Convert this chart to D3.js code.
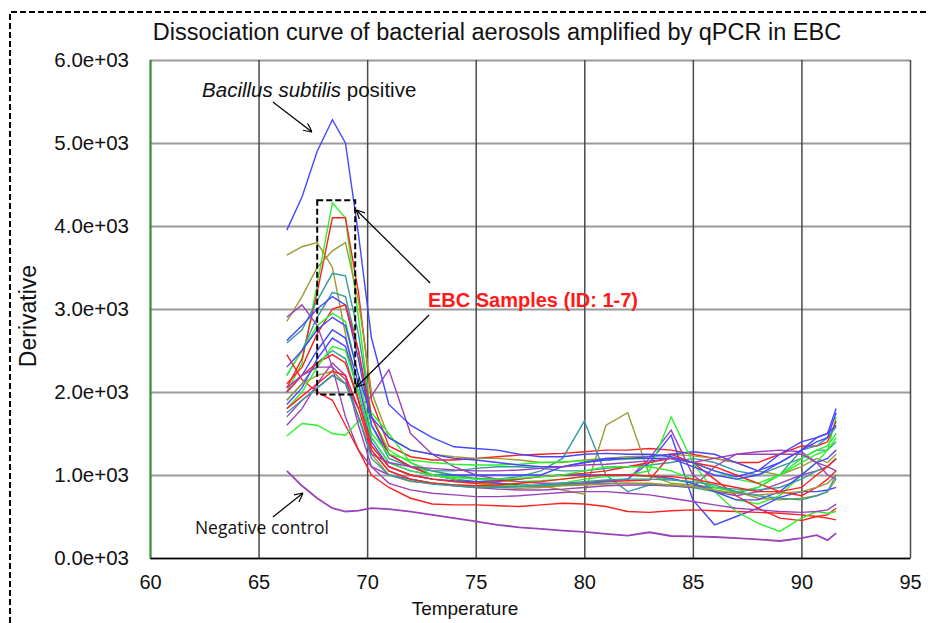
<!DOCTYPE html>
<head>
    <meta charset="utf-8">
    <script src="https://d3js.org/d3.v7.min.js"></script>
    <style>
        body { margin:0; background:#fff; }
        svg { display:block; font-family:"Liberation Sans", Arial, sans-serif; }
    </style>
</head>
<body>
<div id="chart"></div>
<script>

    // ******************** Data ************************
    var temps = [66.3, 67, 67.7, 68.4, 69, 69.6, 70.2, 71, 72, 73, 74, 75, 76, 77, 78, 79,
                 80, 81, 82, 83, 84, 85, 86, 87, 88, 89, 90, 90.7, 91.2, 91.6];

    var xTicks = [60, 65, 70, 75, 80, 85, 90, 95];
    var yTicks = [0, 1000, 2000, 3000, 4000, 5000, 6000];

    var BLUE = "#4646ff", RED = "#ff1f1f", GREEN = "#2cf22c",
        OLIVE = "#9c9a33", TEAL = "#369b9b", PURPLE = "#9c42b8";

    var bacillus = [3950, 4350, 4900, 5280, 5000, 3900, 2650, 1850, 1600, 1450, 1340, 1320, 1300, 1250, 1220, 1220,
                    1250, 1260, 1250, 1250, 1220, 1150, 1050, 980, 1050, 1250, 1400, 1450, 1500, 1800];
    var negControl = [1050, 870, 720, 600, 560, 570, 600, 590, 560, 520, 480, 440, 400, 370, 350, 330,
                      315, 290, 270, 310, 265, 260, 253, 240, 225, 205, 240, 275, 215, 300];

    var ebcSeries = [
        { color: GREEN,  values: [2000, 2350, 3300, 4280, 4100, 2900, 1700, 1300, 1150, 1050, 980, 950, 930, 920, 930, 950, 980, 1000, 1000, 980, 950, 900, 800, 700, 650, 750, 1000, 1150, 1300, 1700] },
        { color: RED,    values: [2050, 2400, 3200, 4100, 4100, 3200, 1900, 1350, 1220, 1180, 1180, 1200, 1220, 1240, 1250, 1260, 1280, 1300, 1300, 1320, 1300, 1250, 1200, 1150, 1150, 1250, 1350, 1350, 1400, 1650] },
        { color: OLIVE,  values: [3650, 3750, 3800, 3500, 2700, 1900, 1350, 1100, 1000, 950, 920, 900, 900, 880, 870, 820, 770, 1600, 1750, 1000, 900, 880, 850, 800, 720, 700, 720, 750, 800, 950] },
        { color: OLIVE,  values: [2850, 3150, 3500, 3700, 3800, 3100, 2000, 1450, 1300, 1250, 1220, 1200, 1200, 1180, 1150, 1150, 1180, 1200, 1220, 1230, 1250, 1230, 1200, 1150, 1050, 1000, 1100, 1200, 1150, 1250] },
        { color: TEAL,   values: [2590, 2750, 3100, 3430, 3400, 2700, 1700, 1250, 1100, 1050, 1000, 960, 950, 980, 1050, 1200, 1650, 1000, 800, 880, 870, 850, 800, 780, 850, 1000, 1300, 1350, 1450, 1580] },
        { color: TEAL,   values: [2200, 2500, 2900, 3200, 3150, 2500, 1600, 1200, 1100, 1050, 1050, 1080, 1100, 1100, 1080, 1050, 1050, 1080, 1100, 1120, 1150, 1200, 1150, 1050, 1000, 1100, 1200, 1300, 1300, 1400] },
        { color: BLUE,   values: [2620, 2800, 3000, 3150, 3050, 2400, 1600, 1250, 1100, 1000, 950, 920, 900, 880, 870, 880, 900, 930, 950, 1150, 1480, 700, 400, 500, 600, 730, 800, 800, 820, 850] },
        { color: RED,    values: [2100, 2300, 2700, 3000, 3050, 2500, 1700, 1250, 1100, 1000, 950, 900, 880, 870, 870, 880, 900, 920, 930, 940, 1250, 1150, 950, 750, 600, 480, 450, 500, 520, 600] },
        { color: PURPLE, values: [2900, 3050, 2800, 2300, 1700, 1300, 1100, 1000, 950, 900, 870, 850, 830, 820, 820, 830, 850, 870, 880, 880, 870, 850, 1100, 1250, 1280, 1300, 1280, 1150, 1100, 1050] },
        { color: PURPLE, values: [1700, 1900, 2050, 2200, 2100, 1800, 1950, 2270, 1500, 1250, 1100, 1000, 950, 920, 900, 900, 900, 920, 950, 1200, 1540, 1000, 800, 750, 800, 900, 1000, 1050, 1100, 1200] },
        { color: GREEN,  values: [2200, 2500, 2800, 2950, 2850, 2200, 1500, 1250, 1180, 1150, 1130, 1120, 1120, 1130, 1150, 1160, 1170, 1180, 1190, 1200, 1200, 1150, 1050, 950, 900, 1000, 1150, 1250, 1300, 1450] },
        { color: BLUE,   values: [2000, 2200, 2500, 2750, 2650, 2100, 1450, 1150, 1050, 1000, 1000, 1000, 1000, 1000, 1000, 1100, 1150, 1180, 1200, 1220, 1250, 1280, 1250, 1150, 1050, 1150, 1300, 1450, 1500, 1600] },
        { color: RED,    values: [2450, 2150, 2000, 1900, 1600, 1300, 1000, 850, 720, 650, 640, 640, 630, 620, 640, 660, 650, 620, 560, 550, 570, 580, 570, 560, 550, 540, 520, 500, 480, 460] },
        { color: GREEN,  values: [1470, 1620, 1600, 1500, 1480, 1650, 1750, 1500, 1150, 1000, 950, 900, 880, 870, 880, 900, 950, 980, 1000, 1050, 1700, 1150, 800, 560, 420, 320, 480, 560, 540, 560] },
        { color: PURPLE, values: [1600, 1800, 2100, 2350, 2200, 1600, 1100, 900, 820, 780, 760, 740, 740, 750, 770, 790, 800, 800, 780, 760, 720, 680, 640, 600, 580, 560, 550, 560, 580, 650] },
        { color: TEAL,   values: [1900, 2100, 2350, 2500, 2400, 1900, 1300, 1050, 950, 900, 880, 870, 860, 860, 870, 880, 890, 900, 900, 890, 880, 860, 850, 830, 820, 850, 950, 1050, 1100, 1200] },
        { color: BLUE,   values: [1850, 2050, 2400, 2650, 2550, 2000, 1400, 1100, 1000, 950, 930, 920, 930, 950, 980, 1000, 1000, 1000, 1000, 990, 960, 900, 800, 700, 700, 800, 1000, 1150, 1200, 1300] },
        { color: RED,    values: [2000, 2200, 2350, 2450, 2350, 1900, 1350, 1100, 1000, 950, 920, 900, 920, 950, 980, 1000, 1020, 1050, 1100, 1150, 1200, 1150, 1100, 1000, 900, 800, 750, 850, 950, 1050] },
        { color: GREEN,  values: [1800, 2000, 2300, 2550, 2500, 2000, 1450, 1150, 1050, 1000, 970, 950, 950, 960, 980, 1000, 1050, 1100, 1100, 1100, 1050, 950, 850, 800, 850, 1000, 1200, 1300, 1350, 1500] },
        { color: BLUE,   values: [2300, 2500, 2750, 2900, 2800, 2200, 1700, 1450, 1300, 1250, 1200, 1180, 1150, 1120, 1100, 1100, 1150, 1200, 1200, 1200, 1200, 1100, 1000, 950, 1000, 1150, 1300, 1400, 1450, 1750] },
        { color: OLIVE,  values: [1900, 2100, 2200, 2250, 2100, 1700, 1250, 1000, 920, 900, 880, 860, 850, 840, 850, 870, 880, 890, 900, 900, 880, 860, 820, 780, 760, 780, 800, 850, 900, 1000] },
        { color: PURPLE, values: [2050, 2200, 2300, 2300, 2150, 1700, 1250, 1150, 1100, 1080, 1060, 1050, 1050, 1060, 1080, 1100, 1120, 1130, 1150, 1170, 1200, 1150, 1200, 1250, 1250, 1250, 1250, 1150, 1000, 950] },
        { color: RED,    values: [1800, 1950, 2100, 2250, 2200, 1800, 1300, 1050, 950, 900, 880, 870, 880, 900, 920, 950, 980, 1000, 1000, 990, 980, 950, 900, 850, 800, 800, 850, 1000, 1100, 1200] },
        { color: TEAL,   values: [1750, 1900, 2050, 2200, 2100, 1700, 1200, 1000, 930, 890, 870, 850, 850, 860, 880, 900, 920, 940, 950, 950, 940, 920, 880, 800, 750, 720, 700, 750, 800, 1000] }
    ];

    // ******************** Layout ************************
    var width = 928, height = 623;
    var x = d3.scaleLinear().domain([60, 95]).range([150, 910]);
    var y = d3.scaleLinear().domain([0, 6000]).range([558, 60]);

    var svg = d3.select("#chart").append("svg")
        .attr("width", width)
        .attr("height", height);

    // Arrow head
    svg.append("defs").append("marker")
        .attr("id", "arrow")
        .attr("viewBox", "0 0 10 10")
        .attr("refX", 10).attr("refY", 5)
        .attr("markerWidth", 9).attr("markerHeight", 9)
        .attr("markerUnits", "userSpaceOnUse")
        .attr("orient", "auto")
        .append("path")
        .attr("d", "M0,0 L10,5 L0,10")
        .attr("fill", "none")
        .attr("stroke", "#000")
        .attr("stroke-width", 1.3);

    // Dashed frame around the figure
    svg.append("path")
        .attr("d", "M10,623 L10,12 L928,12")
        .attr("fill", "none")
        .attr("stroke", "#000")
        .attr("stroke-width", 2)
        .attr("stroke-dasharray", "6,3");

    // Title
    svg.append("text")
        .attr("x", 497).attr("y", 40)
        .attr("text-anchor", "middle")
        .style("font-size", "23.5px")
        .attr("fill", "#111")
        .text("Dissociation curve of bacterial aerosols amplified by qPCR in EBC");

    // Grid lines
    svg.append("g")
        .attr("class", "hgrid")
        .attr("transform", "translate(150,0)")
        .call(d3.axisLeft(y).tickValues(yTicks).tickSize(-760).tickFormat(""))
        .call(g => g.select(".domain").remove())
        .call(g => g.selectAll("line").attr("stroke", "#9a9a9a").attr("stroke-width", 2));

    svg.append("g")
        .attr("class", "vgrid")
        .attr("transform", "translate(0,558)")
        .call(d3.axisBottom(x).tickValues(xTicks).tickSize(-498).tickFormat(""))
        .call(g => g.select(".domain").remove())
        .call(g => g.selectAll("line").attr("stroke", "#4a4a4a").attr("stroke-width", 1.5));

    // Axes
    var yAxis = svg.append("g")
        .attr("transform", "translate(150,0)")
        .call(d3.axisLeft(y).tickValues(yTicks).tickSize(0).tickPadding(21)
            .tickFormat(function (d) { return (d / 1000).toFixed(1) + "e+03"; }));
    yAxis.select(".domain").attr("stroke", "#2e9a2e").attr("stroke-width", 2);
    yAxis.selectAll("text").style("font-size", "20.5px").attr("fill", "#111")
        .attr("font-family", "Liberation Sans, Arial, sans-serif");

    var xAxis = svg.append("g")
        .attr("transform", "translate(0,558)")
        .call(d3.axisBottom(x).tickValues(xTicks).tickSize(0).tickPadding(17));
    xAxis.select(".domain").attr("stroke", "#000").attr("stroke-width", 1.5);
    xAxis.selectAll("text").style("font-size", "20px").attr("fill", "#111")
        .attr("font-family", "Liberation Sans, Arial, sans-serif");

    svg.append("text")
        .attr("transform", "translate(36,316) rotate(-90)")
        .attr("text-anchor", "middle")
        .style("font-size", "23px")
        .attr("fill", "#111")
        .text("Derivative");

    svg.append("text")
        .attr("x", 465).attr("y", 615)
        .attr("text-anchor", "middle")
        .style("font-size", "19px")
        .attr("fill", "#111")
        .text("Temperature");

    // Curves
    var line = d3.line()
        .x(function (d, i) { return x(temps[i]); })
        .y(function (d) { return y(d); });

    var curves = svg.append("g").attr("fill", "none").attr("stroke-width", 1.4);

    curves.selectAll("path.ebc")
        .data(ebcSeries)
        .join("path")
        .attr("class", "ebc")
        .attr("d", function (d) { return line(d.values); })
        .attr("stroke", function (d) { return d.color; });

    curves.append("path")
        .attr("d", line(negControl))
        .attr("stroke", PURPLE)
        .attr("stroke-width", 1.8);

    curves.append("path")
        .attr("d", line(bacillus))
        .attr("stroke", BLUE);

    // ******************** Annotations ************************
    var ann = svg.append("g");

    var bac = ann.append("text")
        .attr("x", x(62.4)).attr("y", y(5560))
        .style("font-size", "20.5px")
        .attr("fill", "#111");
    bac.append("tspan").style("font-style", "italic").text("Bacillus subtilis");
    bac.append("tspan").text(" positive");

    ann.append("line")
        .attr("x1", x(65.66)).attr("y1", y(5494))
        .attr("x2", x(67.46)).attr("y2", y(5133))
        .attr("stroke", "#000").attr("stroke-width", 1.2)
        .attr("marker-end", "url(#arrow)");

    // box around the EBC peaks
    ann.append("rect")
        .attr("x", x(67.7)).attr("y", y(4310))
        .attr("width", x(69.45) - x(67.7))
        .attr("height", y(1970) - y(4310))
        .attr("fill", "none")
        .attr("stroke", "#000")
        .attr("stroke-width", 2)
        .attr("stroke-dasharray", "6,3");

    ann.append("line")
        .attr("x1", x(72.9)).attr("y1", y(3313))
        .attr("x2", x(69.5)).attr("y2", y(4193))
        .attr("stroke", "#000").attr("stroke-width", 1.2)
        .attr("marker-end", "url(#arrow)");
    ann.append("line")
        .attr("x1", x(72.85)).attr("y1", y(2928))
        .attr("x2", x(69.5)).attr("y2", y(2060))
        .attr("stroke", "#000").attr("stroke-width", 1.2)
        .attr("marker-end", "url(#arrow)");

    ann.append("text")
        .attr("x", x(72.8)).attr("y", y(3020))
        .style("font-size", "20px")
        .style("font-weight", "bold")
        .attr("fill", "#ff1a1a")
        .text("EBC Samples (ID: 1-7)");

    ann.append("line")
        .attr("x1", x(65.66)).attr("y1", y(494))
        .attr("x2", x(67.05)).attr("y2", y(783))
        .attr("stroke", "#000").attr("stroke-width", 1.2)
        .attr("marker-end", "url(#arrow)");

    ann.append("text")
        .attr("x", x(62.07)).attr("y", y(290))
        .style("font-size", "17.5px")
        .attr("font-family", "Open Sans, sans-serif")
        .attr("fill", "#111")
        .text("Negative control");

</script>
</body>
